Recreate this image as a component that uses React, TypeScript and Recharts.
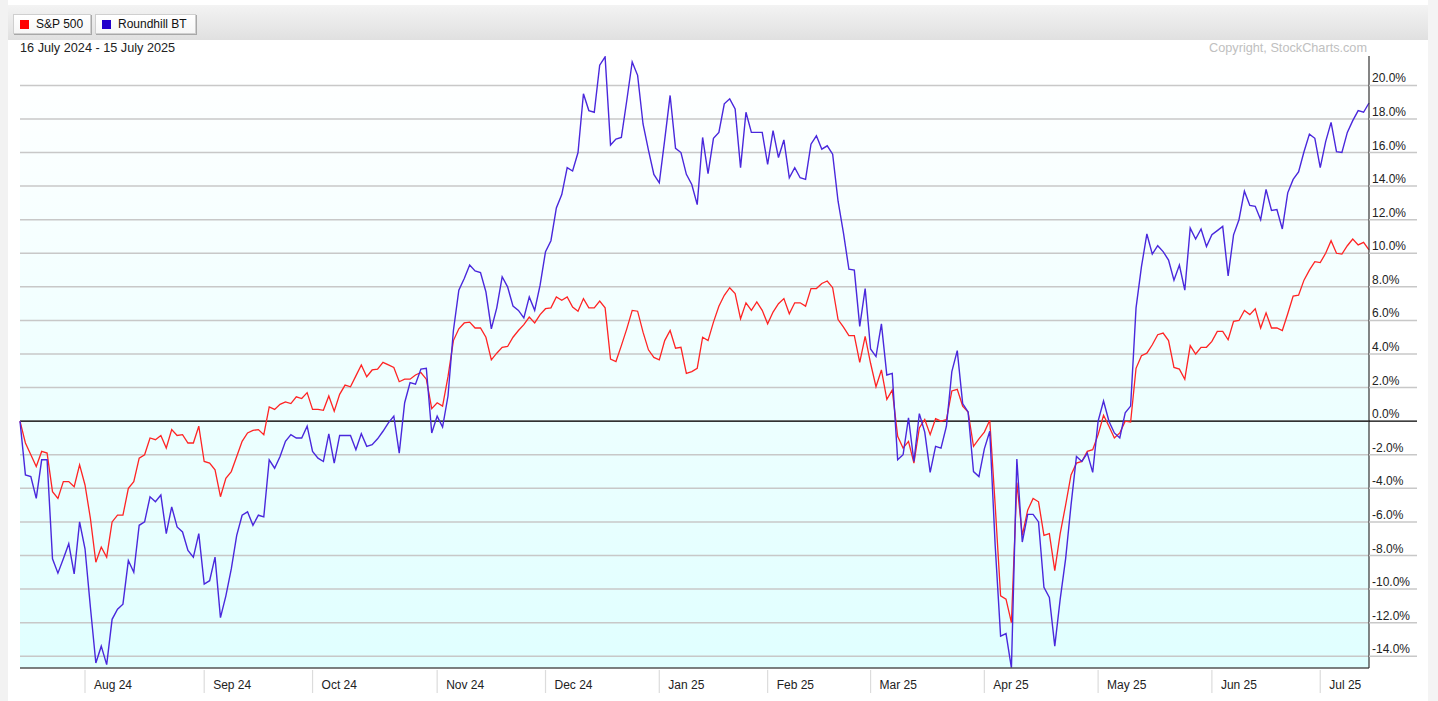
import { CartesianGrid, Line, LineChart, ReferenceLine, XAxis, YAxis } from "recharts";

// % change since 16 July 2024, one value per trading day (250 days)
const SPX = [
  0, -1.3, -2.0, -2.7, -1.8, -1.9, -4.2, -4.6, -3.6, -3.6, -3.9, -2.6,
  -3.8, -5.8, -8.4, -7.5, -8.1, -6.0, -5.6, -5.6, -4.0, -3.6, -2.2, -2.0, -1.0, -1.1, -0.85, -1.6, -0.5, -0.85, -0.8, -1.3, -1.3, -0.3,
  -2.4, -2.5, -2.9, -4.5, -3.4, -3.0, -2.1, -1.2, -0.7, -0.55, -0.5, -0.8, 0.85, 0.7, 1.0, 1.15, 1.05, 1.45, 1.35, 1.7,
  0.7, 0.7, 0.65, 1.5, 0.6, 1.6, 2.15, 2.05, 2.7, 3.35, 2.65, 3.05, 3.1, 3.5, 3.35, 3.2, 2.35, 2.5, 2.5, 2.75, 2.9, 2.5, 0.75,
  1.1, 0.9, 2.65, 4.8, 5.5, 5.85, 5.9, 5.55, 5.55, 5.0, 3.65, 4.05, 4.4, 4.45, 5.0, 5.4, 5.75, 6.2, 5.85, 6.35,
  6.7, 6.75, 7.4, 7.2, 7.4, 6.8, 6.55, 7.3, 6.75, 6.75, 7.15, 6.75, 3.7, 3.55, 4.5, 5.5, 6.6, 6.55, 5.3, 4.25, 3.8,
  3.65, 4.8, 5.4, 4.35, 4.4, 2.85, 2.95, 3.15, 5.0, 4.8, 5.9, 6.85, 7.5, 7.95, 7.6, 6.1, 7.05, 6.6, 7.1, 6.6,
  5.8, 6.5, 7.0, 7.3, 6.4, 7.05, 7.05, 6.85, 7.9, 7.9, 8.2, 8.35, 7.95, 6.05, 5.6, 5.1, 5.1, 3.5, 5.05,
  3.45, 2.05, 3.05, 1.3, 1.85, -0.9, -1.6, -1.2, -2.5, -0.4, 0.1, -0.8, 0.15, 0, 0.1, 1.8, 1.9, 0.9, 0.55, -1.5, -1.05,
  -0.65, 0.05, -5.0, -10.4, -10.6, -12.0, -3.65, -6.8, -5.3, -4.6, -4.8, -6.8, -6.7, -8.9, -6.7, -5.0, -3.2, -2.5, -2.4, -1.8, -1.7,
  -0.8, 0.35, -0.3, -1.0, -0.7, 0, -0.05, 3.15, 3.9, 4.05, 4.55, 5.15, 5.25, 4.8, 3.2, 3.1, 2.5, 4.5, 4.0, 4.4, 4.4,
  4.75, 5.35, 5.35, 4.85, 5.95, 6.0, 6.6, 6.35, 6.7, 5.55, 6.45, 5.55, 5.55, 5.4, 6.4, 7.45, 7.5, 8.4, 9.0, 9.5,
  9.45, 10.0, 10.75, 10.0, 9.95, 10.45, 10.85, 10.5, 10.65, 10.2,
];

const RBT = [
  0, -3.2, -3.3, -4.6, -2.3, -2.3, -8.2, -9.05, -8.2, -7.3, -9.1, -6.0,
  -7.6, -11.1, -14.4, -13.4, -14.5, -11.8, -11.2, -10.9, -8.3, -9.0, -6.2, -6.0, -4.5, -4.8, -4.4, -6.7, -5.1, -6.3, -6.6, -7.7, -8.1, -6.7,
  -9.7, -9.5, -8.1, -11.7, -10.4, -8.8, -6.8, -5.6, -5.4, -6.2, -5.6, -5.7, -2.3, -2.8, -2.1, -1.2, -0.8, -1.0, -1.0, -0.3,
  -1.8, -2.2, -2.4, -0.75, -2.5, -0.85, -0.85, -0.85, -1.7, -0.75, -1.5, -1.4, -1.05, -0.6, -0.1, 0.3, -1.9, 1.1, 2.3, 2.2, 3.1, 3.15, -0.7,
  0.3, -0.35, 1.5, 5.4, 7.8, 8.5, 9.3, 8.95, 8.85, 7.7, 5.5, 6.75, 8.6, 8.0, 6.85, 6.6, 6.15, 7.4, 6.6, 8.1,
  10.1, 10.75, 12.7, 13.5, 15.1, 14.9, 16.0, 19.5, 18.5, 18.4, 21.2, 21.7, 16.45, 16.8, 16.9, 19.1, 21.4, 20.6, 17.7, 16.15, 14.7,
  14.2, 16.75, 19.4, 16.25, 16.0, 14.7, 14.1, 12.9, 16.9, 14.75, 16.85, 17.2, 18.9, 19.2, 18.6, 15.1, 18.4, 17.2, 17.2, 17.2,
  15.3, 17.3, 15.7, 16.75, 14.5, 15.1, 14.5, 14.4, 16.5, 17.0, 16.2, 16.4, 15.9, 13.1, 11.2, 9.05, 9.0, 5.65, 7.9,
  4.3, 3.85, 5.8, 2.75, 2.85, -2.3, -2.0, 0.2, -2.4, 0.45, -0.65, -3.05, -1.5, -1.6, -0.3, 2.95, 4.2, 1.05, 0.55, -3.0, -3.3,
  -1.65, -0.6, -7.4, -12.8, -12.65, -14.7, -2.25, -7.2, -5.55, -5.55, -6.0, -9.9, -10.5, -13.4, -10.6, -8.2, -5.0, -2.1, -2.4, -1.9, -3.05,
  0, 1.2, 0, -0.7, -1.0, 0.5, 0.9, 6.75, 9.2, 11.15, 9.95, 10.45, 10.1, 9.6, 8.4, 9.3, 7.8, 11.5, 10.85, 11.45, 10.4,
  11.1, 11.35, 11.6, 8.65, 11.1, 12.0, 13.7, 12.85, 12.8, 12.0, 13.8, 12.55, 12.6, 11.45, 13.6, 14.4, 14.85, 16.05, 17.1, 16.85,
  15.1, 16.65, 17.8, 16.05, 16.0, 17.2, 17.9, 18.5, 18.4, 18.95,
];

const MONTH_LABELS = ["Aug 24", "Sep 24", "Oct 24", "Nov 24", "Dec 24", "Jan 25", "Feb 25", "Mar 25", "Apr 25", "May 25", "Jun 25", "Jul 25"];
// trading-day index of the first session of each month
const MONTH_START = [12, 34, 54, 77, 97, 118, 138, 157, 178, 199, 220, 240];
const Y_TICKS = [-14, -12, -10, -8, -6, -4, -2, 0, 2, 4, 6, 8, 10, 12, 14, 16, 18, 20];

const data = SPX.map((v, i) => ({ i, spx: v, rbt: RBT[i] }));

const W = 1438;
const H = 701;
const PLOT_LEFT = 20;
const PLOT_RIGHT = 1369;
const PLOT_TOP = 56;
const PLOT_BOTTOM = 668;
const FONT = "'Liberation Sans', Arial, sans-serif";

function YTick(props: any) {
  const { y, payload } = props;
  const v = payload.value as number;
  return (
    <g>
      <line x1={PLOT_RIGHT} x2={1417} y1={y} y2={y} stroke={v === 0 ? "#000" : "#c8c8c8"} strokeWidth={v === 0 ? 1.2 : 1.5} />
      <text x={PLOT_RIGHT + 3} y={y - 3} fontSize={12} fill="#222" fontFamily={FONT}>
        {v.toFixed(1)}%
      </text>
    </g>
  );
}

function XTick(props: any) {
  const { x, payload } = props;
  const idx = MONTH_START.indexOf(payload.value);
  return (
    <g>
      <line x1={x} x2={x} y1={PLOT_BOTTOM + 2} y2={PLOT_BOTTOM + 25} stroke="#dcdcdc" strokeWidth={1.2} />
      <text x={x + 9} y={PLOT_BOTTOM + 21} fontSize={12} fill="#222" fontFamily={FONT}>
        {MONTH_LABELS[idx]}
      </text>
    </g>
  );
}

const legendBtn: React.CSSProperties = {
  position: "absolute",
  top: 14,
  height: 20,
  background: "linear-gradient(#ffffff, #f6f6f6)",
  border: "1px solid #cfcfcf",
  boxShadow: "1px 1px 0 #a8a8a8",
  display: "flex",
  alignItems: "center",
  fontSize: 12,
  color: "#111",
  fontFamily: FONT,
  boxSizing: "border-box",
};

export default function App() {
  return (
    <div style={{ position: "absolute", left: 0, top: 0, width: W, height: H, background: "#fff", overflow: "hidden" }}>
      <div style={{ position: "absolute", left: 0, top: 0, width: 8, height: H, background: "#f2f2f2" }} />
      <div style={{ position: "absolute", left: 1428, top: 0, width: 10, height: H, background: "#f4f4f4" }} />
      <div style={{ position: "absolute", left: 8, top: 5, width: 1420, height: 35, background: "linear-gradient(#f3f3f3, #e0e0e0)" }} />

      <div style={{ ...legendBtn, left: 13, width: 78 }}>
        <span style={{ display: "inline-block", width: 9, height: 9, background: "#ff0000", marginLeft: 6, marginRight: 7 }} />
        S&amp;P 500
      </div>
      <div style={{ ...legendBtn, left: 95, width: 101 }}>
        <span style={{ display: "inline-block", width: 9, height: 9, background: "#2200cc", marginLeft: 6, marginRight: 7 }} />
        Roundhill BT
      </div>

      <div style={{ position: "absolute", left: 20, top: 41, fontSize: 12.7, color: "#222", fontFamily: FONT }}>
        16 July 2024 - 15 July 2025
      </div>
      <div style={{ position: "absolute", right: W - 1367, top: 41, fontSize: 12.7, color: "#c0c0c0", fontFamily: FONT }}>
        Copyright, StockCharts.com
      </div>

      <div style={{ position: "absolute", left: 0, top: 0 }}>
        <LineChart width={W} height={H} data={data} margin={{ top: PLOT_TOP, right: 0, bottom: 0, left: PLOT_LEFT }}>
          <defs>
            <linearGradient id="plotBg" x1="0" y1="0" x2="0" y2="1">
              <stop offset="0%" stopColor="#ffffff" />
              <stop offset="100%" stopColor="#e0ffff" />
            </linearGradient>
          </defs>
          <CartesianGrid vertical={false} syncWithTicks stroke="#c8c8c8" strokeWidth={1.5} fill="url(#plotBg)" fillOpacity={1} />
          <XAxis
            type="number"
            dataKey="i"
            domain={[0, SPX.length - 1]}
            ticks={MONTH_START}
            interval={0}
            tick={<XTick />}
            tickLine={false}
            axisLine={{ stroke: "#555", strokeWidth: 1.5 }}
            height={H - PLOT_BOTTOM}
          />
          <YAxis
            orientation="right"
            domain={[-14.7, 21.75]}
            ticks={Y_TICKS}
            interval={0}
            allowDataOverflow
            tick={<YTick />}
            tickLine={false}
            axisLine={{ stroke: "#333", strokeWidth: 1.2 }}
            width={W - PLOT_RIGHT}
          />
          <ReferenceLine y={0} stroke="#000" strokeWidth={1.2} />
          <Line type="linear" dataKey="spx" stroke="#ff2424" strokeWidth={1.3} dot={false} isAnimationActive={false} />
          <Line type="linear" dataKey="rbt" stroke="#4a28dc" strokeWidth={1.4} dot={false} isAnimationActive={false} />
        </LineChart>
      </div>
    </div>
  );
}
